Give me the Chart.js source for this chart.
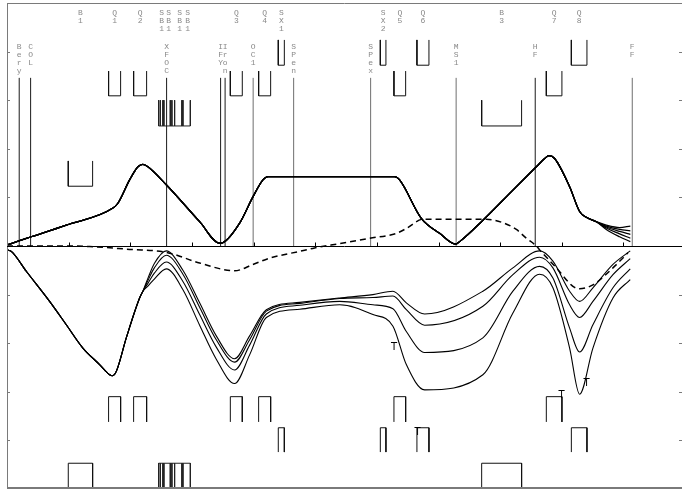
<!DOCTYPE html>
<html>
<head>
<meta charset="utf-8">
<script src="https://cdn.jsdelivr.net/npm/chart.js@4.4.1/dist/chart.umd.min.js"></script>
<style>
  html, body { margin: 0; padding: 0; background: #ffffff; }
  #c { display: block; }
</style>
</head>
<body>
<canvas id="c" width="682" height="490" style="width:682px;height:490px"></canvas>
<script>
// ---- beamline optics: positions s in metres, functions in plot units ----
const S_MAX = 109.5;
const sTicks = [10, 20, 30, 40, 50, 60, 70, 80, 90, 100];
const yTicks = [-4, -3, -2, -1, 1, 2, 3, 4];

// horizontal beta (upper half): common section
const betaXS = [0, 2.04, 3.94, 9.62, 17.18, 17.99, 19.89, 21.24, 22.05, 22.86, 25.84, 31.25, 34.49, 35.03,
  37.74, 39.89, 41.52, 42.33, 62.88, 63.69, 67.21, 70.18, 72.78, 73.43, 77.21, 82.07, 85.87, 87.22, 87.91,
  88.84, 91.27, 92.89, 93.98, 95.6];
const betaX = [0.02, 0.11, 0.19, 0.43, 0.78, 0.88, 1.36, 1.63, 1.68, 1.63, 1.26, 0.50, 0.06, 0.07,
  0.47, 1.01, 1.36, 1.43, 1.43, 1.36, 0.57, 0.26, 0.04, 0.09, 0.53, 1.15, 1.63, 1.80, 1.86,
  1.80, 1.22, 0.71, 0.59, 0.50];
// horizontal beta tails for the five momentum offsets
const betaXTailS = [97.22, 99.38, 101.12];
const betaXTail1 = [0.43, 0.38, 0.41];
const betaXTail2 = [0.41, 0.34, 0.31];
const betaXTail3 = [0.39, 0.30, 0.24];
const betaXTail4 = [0.37, 0.25, 0.16];
const betaXTail5 = [0.34, 0.19, 0.09];

// vertical beta (lower half, drawn negative): common trunk
const betaYTrunkS = [0, 0.70, 3.13, 6.91, 9.62, 12.31, 15.02, 16.65, 17.08, 17.73, 19.35, 21.51, 22.05];
const betaYTrunk = [-0.08, -0.11, -0.52, -1.14, -1.62, -2.10, -2.44, -2.65, -2.67, -2.58, -1.89, -1.07, -0.93];
// vertical beta after the split, four momentum offsets
const betaYS = [22.9, 23.9, 25.84, 28.54, 31.25, 33.95, 36.92, 39.36, 42.07, 47.5, 53.96, 59.36, 62.61, 64.78,
  67.75, 77.20, 82.07, 86.40, 88.56, 91.27, 92.89, 95.05, 98.30, 101.1];
const betaY1 = [-0.65, -0.36, -0.10, -0.50, -1.17, -1.85, -2.32, -1.85, -1.31, -1.16, -1.07, -1.00, -0.93, -1.17,
  -1.40, -0.93, -0.45, -0.10, -0.31, -0.93, -1.14, -0.86, -0.38, -0.10];
const betaY2 = [-0.70, -0.45, -0.19, -0.58, -1.26, -1.93, -2.39, -1.93, -1.34, -1.18, -1.08, -1.06, -1.03, -1.31,
  -1.63, -1.24, -0.59, -0.23, -0.45, -1.21, -1.47, -1.14, -0.59, -0.26];
const betaY3 = [-0.76, -0.56, -0.33, -0.73, -1.41, -2.08, -2.55, -2.04, -1.40, -1.22, -1.14, -1.21, -1.29, -1.76,
  -2.19, -1.89, -0.93, -0.42, -0.66, -1.69, -2.18, -1.62, -0.86, -0.47];
const betaY4 = [-0.82, -0.68, -0.47, -0.90, -1.63, -2.33, -2.83, -2.24, -1.47, -1.30, -1.21, -1.41, -1.65, -2.44,
  -2.96, -2.65, -1.38, -0.58, -0.86, -2.10, -3.05, -2.10, -1.07, -0.69];

// dispersion (dashed)
const dispS = [0, 8.53, 13.40, 19.89, 25.84, 31.25, 36.92, 39.89, 42.60, 47.47, 49.90, 53.96, 58.83, 63.16,
  64.78, 67.47, 77.76, 80.45, 82.63, 84.25, 85.87, 86.41, 89.12, 91.81, 92.89, 95.05, 98.30, 100.73];
const disp = [0, 0, -0.01, -0.07, -0.13, -0.35, -0.51, -0.38, -0.25, -0.11, -0.04, 0.05, 0.16, 0.26,
  0.36, 0.55, 0.55, 0.48, 0.34, 0.16, 0, -0.08, -0.45, -0.83, -0.88, -0.80, -0.45, -0.14];

// point-like elements (markers)
const markerNames = ['Bery', 'COL', 'XFOC', 'IFY', 'Iron', 'OC1', 'SPen', 'SPex', 'MS1', 'HF', 'FF'];
const markerS = [1.98, 3.83, 25.89, 34.65, 35.38, 39.93, 46.50, 58.99, 72.86, 85.69, 101.43];

// quadrupoles, first row
const quadANames = ['Q1', 'Q2', 'Q3', 'Q4', 'Q5', 'Q7'];
const quadAStart = [16.48, 20.54, 36.23, 40.82, 62.77, 87.49];
const quadAEnd = [18.43, 22.65, 38.17, 42.77, 64.67, 90.02];
// sextupoles and quadrupoles, second row
const quadBNames = ['SX1', 'SX2', 'Q6', 'Q8'];
const quadBStart = [44.01, 60.56, 66.50, 91.55];
const quadBEnd = [44.99, 61.47, 68.45, 94.08];
// dipoles
const bendNames = ['B1', 'B3'];
const bendStart = [9.94, 77.00];
const bendEnd = [13.89, 83.48];
// short bend group
const sbNames = ['SB1', 'SB1', 'SB1', 'SB1'];
const sbLabelS = [25.08, 26.22, 28.00, 29.30];
const sbEdges = [24.59, 24.87, 25.29, 25.45, 26.49, 26.75, 27.19, 28.37, 28.54, 29.74];

// small T markers in the lower half
const tMarkS = [62.80, 94.03, 89.97, 66.61];
const tMarkV = [-2.06, -2.80, -3.06, -3.81];

// ---- drawing levels (plot units) and styles ----
const LV = {
  markerTop: 3.46,
  aTop: 3.60, aBot: 3.09, bTop: 4.24, bBot: 3.72,
  bendTop: 3.00, bendBot: 2.47, b1Top: 1.75, b1Bot: 1.23,
  lowATop: -3.10, lowABot: -3.62, lowBTop: -3.74, lowBBot: -4.24,
  lowBendTop: -4.47, lowBendBot: -5,
  labelRow1: 4.80, labelRow2: 4.10
};
const lightMarkers = new Set(['OC1', 'SPen', 'SPex', 'MS1', 'FF']);

// ---- helpers building line datasets ----
const pts = (xs, ys) => xs.map((s, i) => ({ x: s, y: ys[i] }));
const gap = s => ({ x: s, y: null });

function openTop(starts, ends, top, bot) {
  const d = [];
  starts.forEach((s0, i) => {
    const s1 = ends[i];
    d.push({ x: s0, y: top }, { x: s0, y: bot }, { x: s1, y: bot }, { x: s1, y: top }, gap(s1));
  });
  return d;
}
function openBottom(starts, ends, top, bot) {
  const d = [];
  starts.forEach((s0, i) => {
    const s1 = ends[i];
    d.push({ x: s0, y: bot }, { x: s0, y: top }, { x: s1, y: top }, { x: s1, y: bot }, gap(s1));
  });
  return d;
}
function edgeGroup(edges, top, bot, base) {
  const d = [];
  edges.forEach(s => d.push({ x: s, y: top }, { x: s, y: bot }, gap(s)));
  d.push({ x: edges[0], y: base }, { x: edges[edges.length - 1], y: base }, gap(edges[edges.length - 1]));
  return d;
}
function markerLines(keep) {
  const d = [];
  markerS.forEach((s, i) => {
    if (keep(markerNames[i])) d.push({ x: s, y: 0 }, { x: s, y: LV.markerTop }, gap(s));
  });
  return d;
}

const curve = (data, w) => ({
  data, borderColor: '#000', borderWidth: w, pointRadius: 0, fill: false,
  cubicInterpolationMode: 'monotone', spanGaps: false
});
const shape = (data, color, w) => ({
  data, borderColor: color, borderWidth: w, pointRadius: 0, fill: false,
  tension: 0, spanGaps: false
});

const tails = [betaXTail1, betaXTail2, betaXTail3, betaXTail4, betaXTail5];
const datasets = [];
tails.forEach(t => datasets.push(curve(pts(betaXS.concat(betaXTailS), betaX.concat(t)), 1.25)));
[betaY1, betaY2, betaY3, betaY4].forEach(b =>
  datasets.push(curve(pts(betaYTrunkS.concat(betaYS), betaYTrunk.concat(b)), 1.1)));
datasets.push(Object.assign(curve(pts(dispS, disp), 1.5), { borderDash: [6, 4] }));

// element marker lines
datasets.push(shape(markerLines(n => !lightMarkers.has(n)), '#1a1a1a', 1));
datasets.push(shape(markerLines(n => lightMarkers.has(n)), '#6e6e6e', 1));

// magnets, upper half
datasets.push(shape(openTop(quadAStart, quadAEnd, LV.aTop, LV.aBot), '#111', 1));
datasets.push(shape(openTop(quadBStart, quadBEnd, LV.bTop, LV.bBot), '#111', 1));
datasets.push(shape(openTop([bendStart[0]], [bendEnd[0]], LV.b1Top, LV.b1Bot), '#111', 1));
datasets.push(shape(openTop([bendStart[1]], [bendEnd[1]], LV.bendTop, LV.bendBot), '#111', 1));
datasets.push(shape(edgeGroup(sbEdges, LV.bendTop, LV.bendBot, LV.bendBot), '#222', 1));
// magnets, lower half
datasets.push(shape(openBottom(quadAStart, quadAEnd, LV.lowATop, LV.lowABot), '#111', 1));
datasets.push(shape(openBottom(quadBStart, quadBEnd, LV.lowBTop, LV.lowBBot), '#111', 1));
datasets.push(shape(openBottom(bendStart, bendEnd, LV.lowBendTop, LV.lowBendBot), '#111', 1));
datasets.push(shape(edgeGroup(sbEdges, LV.lowBendTop, LV.lowBendBot, LV.lowBendTop), '#222', 1));

// ---- frame, central axis, element names ----
const decor = {
  id: 'decor',
  afterDatasetsDraw(chart) {
    const { ctx, chartArea: a, scales: { x, y } } = chart;
    ctx.save();
    // frame
    ctx.strokeStyle = '#7a7a7a';
    ctx.lineWidth = 1;
    ctx.beginPath();
    ctx.moveTo(a.left + 0.5, a.top); ctx.lineTo(a.left + 0.5, a.bottom);
    ctx.moveTo(a.left, a.top + 0.5); ctx.lineTo(a.right, a.top + 0.5);
    yTicks.forEach(t => {
      const py = Math.round(y.getPixelForValue(t)) + 0.5;
      ctx.moveTo(a.left, py); ctx.lineTo(a.left + 3, py);
      ctx.moveTo(a.right, py); ctx.lineTo(a.right - 3, py);
    });
    ctx.stroke();
    ctx.lineWidth = 2;
    ctx.beginPath();
    ctx.moveTo(a.left, a.bottom - 1); ctx.lineTo(a.right, a.bottom - 1);
    ctx.stroke();

    // central s axis
    const y0 = Math.round(y.getPixelForValue(0)) + 0.5;
    ctx.strokeStyle = '#000';
    ctx.lineWidth = 1;
    ctx.beginPath();
    ctx.moveTo(a.left, y0); ctx.lineTo(a.right, y0);
    sTicks.forEach(s => {
      const px = Math.round(x.getPixelForValue(s)) + 0.5;
      ctx.moveTo(px, y0); ctx.lineTo(px, y0 - 4);
    });
    ctx.stroke();

    // vertical element names
    ctx.fillStyle = '#8a8a8a';
    ctx.font = '8px "Liberation Mono", "DejaVu Sans Mono", monospace';
    ctx.textAlign = 'center';
    ctx.textBaseline = 'middle';
    const stack = (name, s, level) => {
      const px = x.getPixelForValue(s);
      const py = y.getPixelForValue(level);
      [...name].forEach((ch, i) => ctx.fillText(ch, px, py + i * 8));
    };
    markerNames.forEach((n, i) => stack(n, markerS[i], LV.labelRow2));
    quadANames.forEach((n, i) => stack(n, (quadAStart[i] + quadAEnd[i]) / 2, LV.labelRow1));
    quadBNames.forEach((n, i) => stack(n, (quadBStart[i] + quadBEnd[i]) / 2, LV.labelRow1));
    bendNames.forEach((n, i) => stack(n, (bendStart[i] + bendEnd[i]) / 2, LV.labelRow1));
    sbNames.forEach((n, i) => stack(n, sbLabelS[i], LV.labelRow1));

    // T markers
    ctx.fillStyle = '#000';
    ctx.font = '10px "DejaVu Sans", sans-serif';
    ctx.textBaseline = 'alphabetic';
    tMarkS.forEach((s, i) => {
      ctx.fillText('T', x.getPixelForValue(s), y.getPixelForValue(tMarkV[i]) + 3.6);
    });
    ctx.restore();
  }
};

new Chart(document.getElementById('c'), {
  type: 'line',
  data: { datasets },
  options: {
    responsive: false,
    animation: false,
    devicePixelRatio: 1,
    events: [],
    layout: { padding: { left: 7, top: 3, right: 0, bottom: 1 } },
    scales: {
      x: { type: 'linear', min: 0, max: S_MAX, display: false },
      y: { type: 'linear', min: -5, max: 5, display: false }
    },
    plugins: { legend: { display: false }, tooltip: { enabled: false }, title: { display: false } }
  },
  plugins: [decor]
});
</script>
</body>
</html>
